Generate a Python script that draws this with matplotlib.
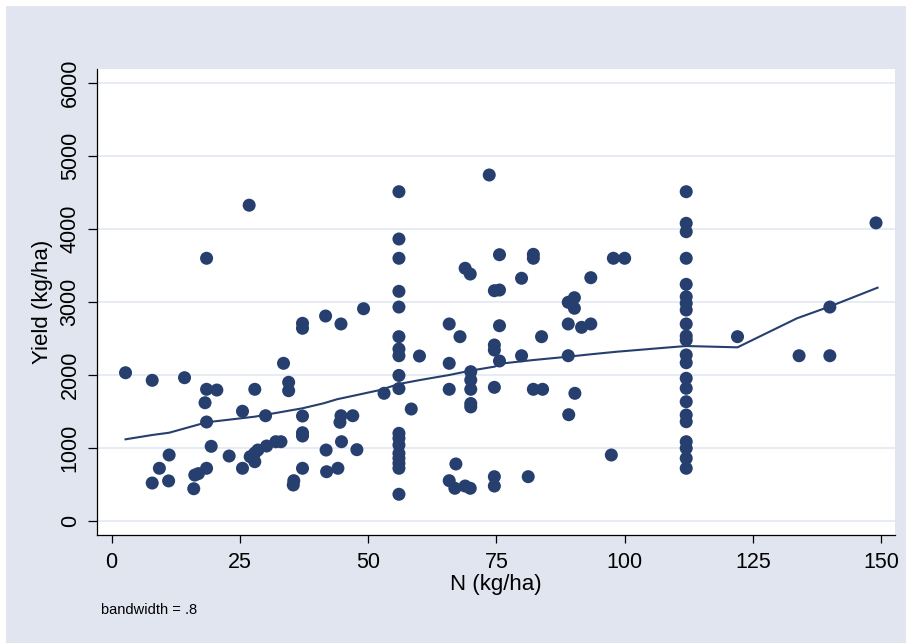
import matplotlib
matplotlib.use('Agg')
import matplotlib.pyplot as plt
from matplotlib.patches import Rectangle

plt.rcParams['font.family'] = ['Liberation Sans', 'DejaVu Sans']

# N applied (kg/ha) and grain yield (kg/ha)
n_rate = [26.8, 18.5, 2.7, 7.9, 14.2, 18.5, 20.5, 18.2, 18.5, 19.4,
          11.2, 9.3, 7.9, 11.1, 16.0, 16.2, 16.9, 18.5, 22.9, 25.5,
          25.5, 27.9, 30.0, 27.0, 27.9, 28.5, 27.9, 30.2, 32.0, 33.0,
          33.5, 34.5, 34.5, 37.2, 37.2, 37.2, 37.2, 35.5, 35.4, 37.2,
          37.2, 41.7, 44.7, 49.1, 41.8, 41.9, 44.1, 44.8, 44.5, 44.7,
          47.0, 47.8,
          56, 56, 56, 56, 56, 56, 56, 56, 56, 56,
          56, 56, 56, 56, 56, 56, 56, 56,
          53.1, 58.4, 60.0, 65.8, 67.9, 65.8, 65.8, 70, 70, 70,
          70, 70, 68.9, 69.9, 73.6, 74.6, 75.6, 75.6, 74.6, 74.6,
          75.6, 75.6, 74.6, 65.8, 66.9, 67.1, 68.9, 69.9, 74.6, 74.6,
          79.9, 79.9, 81.2, 82.2, 82.2, 82.2, 84.0, 83.8, 89.0, 90.2,
          90.2, 89.0, 89.0, 90.3, 89.1, 91.6, 93.4, 93.4, 97.8, 100.0,
          97.4,
          112, 112, 112, 112, 112, 112, 112, 112, 112, 112,
          112, 112, 112, 112, 112, 112, 112, 112, 112, 112,
          112, 112,
          122, 134, 140, 140, 149]
grain_yield = [4322, 3595, 2027, 1923, 1959, 1800, 1790, 1616, 1352, 1019,
               900, 718, 516, 545, 438, 625, 645, 718, 886, 718,
               1499, 1800, 1438, 877, 927, 968, 808, 1023, 1082, 1082,
               2156, 1896, 1781, 1434, 1205, 1160, 718, 548, 489, 2704,
               2636, 2804, 2695, 2904, 968, 671, 718, 1082, 1348, 1438,
               1438, 973,
               4507, 3859, 3595, 3142, 2927, 2521, 2352, 2260, 1990, 1810,
               1197, 1129, 1037, 923, 855, 786, 718, 362,
               1745, 1530, 2256, 2695, 2521, 2156, 1800, 2041, 1927, 1800,
               1605, 1559, 3458, 3379, 4736, 3151, 3160, 3644, 2407, 2338,
               2671, 2188, 1827, 548, 444, 777, 475, 444, 603, 475,
               3321, 2260, 603, 3649, 3595, 1800, 1800, 2521, 2992, 3055,
               2910, 2695, 2260, 1745, 1452, 2649, 2695, 3329, 3595, 3595,
               900,
               4507, 4074, 3959, 3595, 3238, 3068, 2978, 2886, 2695, 2530,
               2475, 2270, 2164, 1951, 1814, 1630, 1448, 1356, 1082, 992,
               855, 718,
               2521, 2260, 2260, 2927, 4080]

# lowess curve as drawn in the picture
lowess_n = [2.7, 7.9, 11.2, 18.5, 27.9, 37.2, 41.3, 43.9, 52.3, 56,
            60.1, 65.8, 69.9, 74.6, 76.4, 82.2, 89.0, 93.3, 98.5, 108.8,
            112, 122, 133.6, 139.9, 149.3]
lowess_y = [1115, 1174, 1205, 1348, 1425, 1540, 1608, 1663, 1790, 1873,
            1927, 1996, 2055, 2110, 2156, 2201, 2247, 2279, 2315, 2375,
            2393, 2375, 2773, 2932, 3192]

x_ticks = [0, 25, 50, 75, 100, 125, 150]
y_ticks = [0, 1000, 2000, 3000, 4000, 5000, 6000]

W, H = 906, 643
bg = '#e1e5f0'
navy = '#263f6e'

fig = plt.figure(figsize=(W / 100, H / 100), dpi=100, facecolor='white')
fig.patches.append(Rectangle((6 / W, 0), 1, (H - 6) / H, transform=fig.transFigure,
                             facecolor=bg, edgecolor='none', zorder=-1))

ax = fig.add_axes([96.7 / W, (H - 535) / H, (895 - 96.7) / W, (535 - 69) / H])
ax.set_facecolor('white')

ax.scatter(n_rate, grain_yield, s=88, color=navy, edgecolors='none', zorder=3)
ax.plot(lowess_n, lowess_y, color=navy, lw=1.5, zorder=4)

ax.set_xlim(-2.92, 152.7)
ax.set_ylim(-196, 6188)
ax.set_xticks(x_ticks)
ax.set_yticks(y_ticks)
ax.set_yticklabels([str(v) for v in y_ticks], rotation=90, va='center')

ax.grid(True, axis='y', color='#e3e7f1', lw=1.2)
ax.set_axisbelow(True)
for side in ['top', 'right']:
    ax.spines[side].set_visible(False)
for side in ['left', 'bottom']:
    ax.spines[side].set_linewidth(0.9)
    ax.spines[side].set_color('black')
ax.tick_params(axis='x', length=6, width=0.9, pad=6, labelsize=15.5, colors='black')
ax.tick_params(axis='y', length=6.5, width=0.9, pad=5, labelsize=15.5, colors='black')

ax.set_xlabel('N (kg/ha)', fontsize=16, labelpad=1)
ax.set_ylabel('Yield (kg/ha)', fontsize=16, labelpad=5)

fig.text(101 / W, 1 - 610 / H, 'bandwidth = .8', fontsize=10.5, va='center', ha='left')

plt.savefig('out.png', dpi=100, facecolor=fig.get_facecolor())
